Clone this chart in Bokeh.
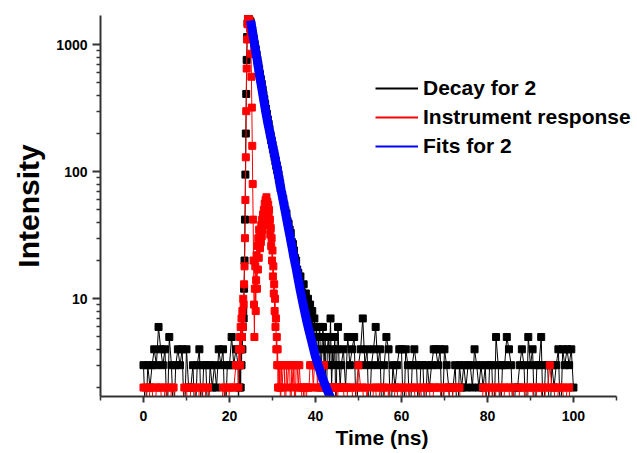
import numpy as np
from bokeh.plotting import figure
from bokeh.models import (Range1d, FixedTicker, Legend, LegendItem, Title,
                          PrintfTickFormatter)
from bokeh.embed import file_html
from bokeh.resources import INLINE

# ---------------- data (counts) ----------------
# segment A: 0.0 .. 21.5 ns, 0.5 ns channels
decay_A = [3, 1, 3, 2, 3, 4, 3, 6, 4, 3,
           4, 1, 5, 3, 1, 3, 4, 3, 4, 1,
           4, 2, 2, 3, 1, 3, 4, 1, 3, 3,
           1, 3, 2, 3, 2, 4, 3, 4, 1, 3,
           3, 5, 3, 4]
irf_A = [2, 2, 1, 2, 2, 1, 2, 2, 2, 1,
         2, 2, 1, 2, 2, 1, 1, 1, 1, 2,
         2, 1, 2, 2, 2, 1, 2, 2, 1, 2,
         2, 1, 1, 1, 1, 1, 1, 2, 2, 1,
         2, 2, 2, 3]
# segment B: 22.0 .. 31.9 ns, 0.1 ns channels
decay_B = [3, 1, 3, 2, 4, 3, 2, 4, 3, 5,
           4, 6, 8, 7, 12, 20, 42, 95, 200, 410,
           760, 1150, 1480, 1620, 1650, 1600, 1560, 1530, 1500, 1520,
           1470, 1430, 1340, 1310, 1220, 1190, 1120, 1095, 1020, 990,
           930, 915, 850, 835, 780, 760, 705, 700, 650, 640,
           590, 585, 545, 530, 495, 490, 450, 445, 415, 405,
           375, 372, 345, 340, 315, 312, 290, 284, 262, 258,
           240, 238, 220, 218, 200, 198, 190, 178, 176, 165,
           163, 152, 151, 140, 141, 130, 131, 120, 122, 111,
           112, 103, 104, 95, 96, 87, 88, 80, 81, 74]
irf_B = [3, 2, 4, 3, 5, 3, 6, 4, 7, 5,
         8, 6, 10, 9, 13, 18, 30, 60, 130, 300,
         650, 1100, 1450, 1600, 1650, 1620, 1580, 1500, 1350, 1150,
         850, 560, 320, 160, 80, 42, 20, 9, 5, 12,
         18, 8, 14, 22, 12, 26, 17, 30, 21, 35,
         30, 25, 34, 28, 38, 31, 42, 35, 46, 38,
         50, 42, 56, 47, 60, 52, 63, 55, 58, 48,
         55, 44, 50, 38, 42, 32, 36, 26, 30, 20,
         24, 15, 18, 11, 13, 8, 10, 6, 7, 4,
         5, 3, 4, 2, 3, 3, 2, 3, 2, 1]
# segment C: 32.0 .. 45.75 ns, 0.25 ns channels
decay_C = [73, 66, 61, 55, 50, 47, 41, 39,
           35, 33, 28, 27, 24, 21, 20, 17,
           16, 14, 15, 12, 11, 13, 9, 11,
           8, 10, 7, 9, 6, 8, 5, 7,
           4, 6, 3, 5, 6, 2, 4, 6,
           3, 5, 1, 4, 5, 3, 7, 2,
           4, 3, 5, 1, 4, 6, 3, 2]
irf_C = [3, 2, 3, 3, 1, 3, 2, 3,
         3, 1, 3, 2, 3, 1, 3, 3,
         2, 3, 2, 2, 1, 2, 2, 1,
         2, 2, 2, 3, 3, 3, 2, 3,
         3, 3, 2, 3, 3, 2, 3, 3,
         3, 2, 2, 1, 2, 2, 2, 1,
         2, 2, 2, 2, 1, 2, 2, 2]
# segment D: 46.0 .. 100.0 ns, 0.5 ns channels
decay_D = [3, 4, 2, 5, 3, 4, 5, 1, 3, 4,
           7, 3, 4, 1, 3, 4, 6, 3, 4, 1,
           3, 5, 4, 1, 3, 2, 3, 4, 4, 1,
           4, 3, 1, 3, 4, 3, 1, 3, 3, 1,
           3, 2, 3, 4, 4, 3, 4, 1, 4, 3,
           2, 1, 2, 3, 1, 3, 2, 3, 2, 3,
           3, 2, 4, 3, 2, 3, 2, 3, 1, 3,
           3, 1, 5, 3, 1, 3, 3, 5, 4, 3,
           1, 2, 2, 3, 4, 3, 1, 5, 3, 4,
           1, 3, 3, 5, 1, 3, 3, 1, 3, 2,
           3, 4, 1, 4, 3, 4, 3, 4, 2]
irf_D = [2, 2, 1, 2, 2, 2, 1, 2, 3, 2,
         2, 1, 2, 1, 1, 2, 2, 1, 2, 2,
         2, 1, 2, 1, 1, 2, 2, 1, 2, 2,
         2, 1, 2, 2, 2, 1, 2, 2, 1, 2,
         2, 2, 1, 2, 2, 2, 2, 1, 2, 2,
         2, 1, 2, 2, 2, 2, 1, 1, 1, 1,
         1, 1, 1, 1, 1, 1, 2, 2, 1, 2,
         2, 1, 2, 2, 2, 1, 2, 2, 2, 1,
         2, 1, 1, 2, 2, 2, 1, 2, 2, 2,
         1, 2, 2, 2, 1, 2, 2, 3, 2, 2,
         1, 2, 2, 2, 1, 2, 2, 1, 1]

# channel grid of each segment: (start ns, channel width ns)
seg_A = (0.0, 0.5)
seg_B = (22.0, 0.1)
seg_C = (32.0, 0.25)
seg_D = (46.0, 0.5)

# fitted curve
fit_t = [24.9, 25.5, 26.0, 26.5, 27.0, 27.5, 28.0, 28.5, 29.0, 29.5,
         30.0, 30.5, 31.0, 31.5, 32.0, 32.5, 33.0, 33.5, 34.0, 34.5,
         35.0, 35.5, 36.0, 36.5, 37.0, 37.5, 38.0, 38.5, 39.0, 39.5,
         40.0, 40.5, 41.0, 41.5, 42.0, 42.5, 43.0, 43.5, 44.0]
fit_v = [1550, 1175, 935, 740, 575, 457, 363, 288, 234, 195,
         162, 135, 110, 89, 72, 59, 48, 39, 32, 26,
         21, 17.4, 14.1, 11.5, 9.5, 7.9, 6.6, 5.6, 4.8, 4.1,
         3.5, 3.1, 2.75, 2.45, 2.2, 2.0, 1.82, 1.66, 1.55]

x_major = [0, 20, 40, 60, 80, 100]
x_minor = [-10, 10, 30, 50, 70, 90, 110]
x_axis_bounds = (-10, 110)
y_major = [10, 100, 1000]
y_minor = [2, 3, 4, 5, 6, 7, 8, 9, 20, 30, 40, 50, 60, 70, 80, 90,
           200, 300, 400, 500, 600, 700, 800, 900]

legend_labels = ["Decay for 2", "Instrument response", "Fits for 2"]
x_title = "Time (ns)"
y_title = "Intensity"


def channel_times(seg, values):
    start, step = seg
    return start + step * np.arange(len(values))


segs = [(seg_A, decay_A, irf_A), (seg_B, decay_B, irf_B),
        (seg_C, decay_C, irf_C), (seg_D, decay_D, irf_D)]
t_decay = np.concatenate([channel_times(s, d) for s, d, _ in segs])
v_decay = np.concatenate([d for _, d, _ in segs]).astype(float)
t_irf = np.concatenate([channel_times(s, r) for s, _, r in segs])
v_irf = np.concatenate([r for _, _, r in segs]).astype(float)

FONT = "Liberation Sans"

p = figure(width=637, height=453,
           x_range=Range1d(-10, 114.9), y_range=Range1d(1.7, 1700),
           y_axis_type="log", output_backend="svg", toolbar_location=None,
           min_border_left=100, min_border_right=0,
           min_border_top=15, min_border_bottom=57)
p.xgrid.visible = False
p.ygrid.visible = False
p.outline_line_color = None
p.background_fill_color = "white"
p.border_fill_color = "white"

# data
p.line(t_decay, v_decay, color="black", line_width=1)
p.scatter(t_decay, v_decay, marker="square", size=7, color="black")
p.line(t_irf, v_irf, color="#ff0000", line_width=1)
p.scatter(t_irf, v_irf, marker="square", size=7, color="#ff0000")
p.line(fit_t, fit_v, color="#0000ff", line_width=9)

# axes
p.xaxis.ticker = FixedTicker(ticks=x_major, minor_ticks=x_minor)
p.xaxis.bounds = x_axis_bounds
p.yaxis.ticker = FixedTicker(ticks=y_major, minor_ticks=y_minor)
p.yaxis.formatter = PrintfTickFormatter(format="%d")
for ax in (p.xaxis[0], p.yaxis[0]):
    ax.axis_line_width = 2
    ax.axis_line_color = "#333333"
    ax.major_tick_line_color = "#333333"
    ax.minor_tick_line_color = "#333333"
    ax.major_tick_line_width = 2
    ax.minor_tick_line_width = 1.5
    ax.major_tick_in = 0
    ax.minor_tick_in = 0
    ax.major_label_text_font = FONT
    ax.major_label_text_font_style = "bold"
    ax.major_label_text_font_size = "14px"
    ax.major_label_text_color = "black"
p.xaxis.major_tick_out = 6
p.xaxis.minor_tick_out = 4
p.xaxis.major_label_standoff = 8
p.yaxis.major_tick_out = 8
p.yaxis.minor_tick_out = 4
p.yaxis.major_label_standoff = 5

# axis titles
p.yaxis.axis_label = y_title
p.yaxis.axis_label_text_font = FONT
p.yaxis.axis_label_text_font_style = "bold"
p.yaxis.axis_label_text_font_size = "30px"
p.yaxis.axis_label_text_color = "black"
p.yaxis.axis_label_standoff = 8

p.add_layout(Title(text=x_title, align="left", offset=235, standoff=0,
                   text_font=FONT, text_font_style="bold",
                   text_font_size="21px", text_color="black"), "below")

# legend (line samples only)
r1 = p.line([np.nan], [np.nan], color="black", line_width=2)
r2 = p.line([np.nan], [np.nan], color="#ff0000", line_width=2)
r3 = p.line([np.nan], [np.nan], color="#0000ff", line_width=2)
legend = Legend(items=[LegendItem(label=legend_labels[0], renderers=[r1]),
                       LegendItem(label=legend_labels[1], renderers=[r2]),
                       LegendItem(label=legend_labels[2], renderers=[r3])],
                location=(275, 238), glyph_width=43, glyph_height=22,
                spacing=5, label_standoff=5, padding=0, margin=0,
                border_line_color=None, background_fill_alpha=0,
                label_text_font=FONT, label_text_font_style="bold",
                label_text_font_size="21px", label_text_color="black")
p.add_layout(legend)

open("out.html", "w").write(file_html(p, INLINE))
